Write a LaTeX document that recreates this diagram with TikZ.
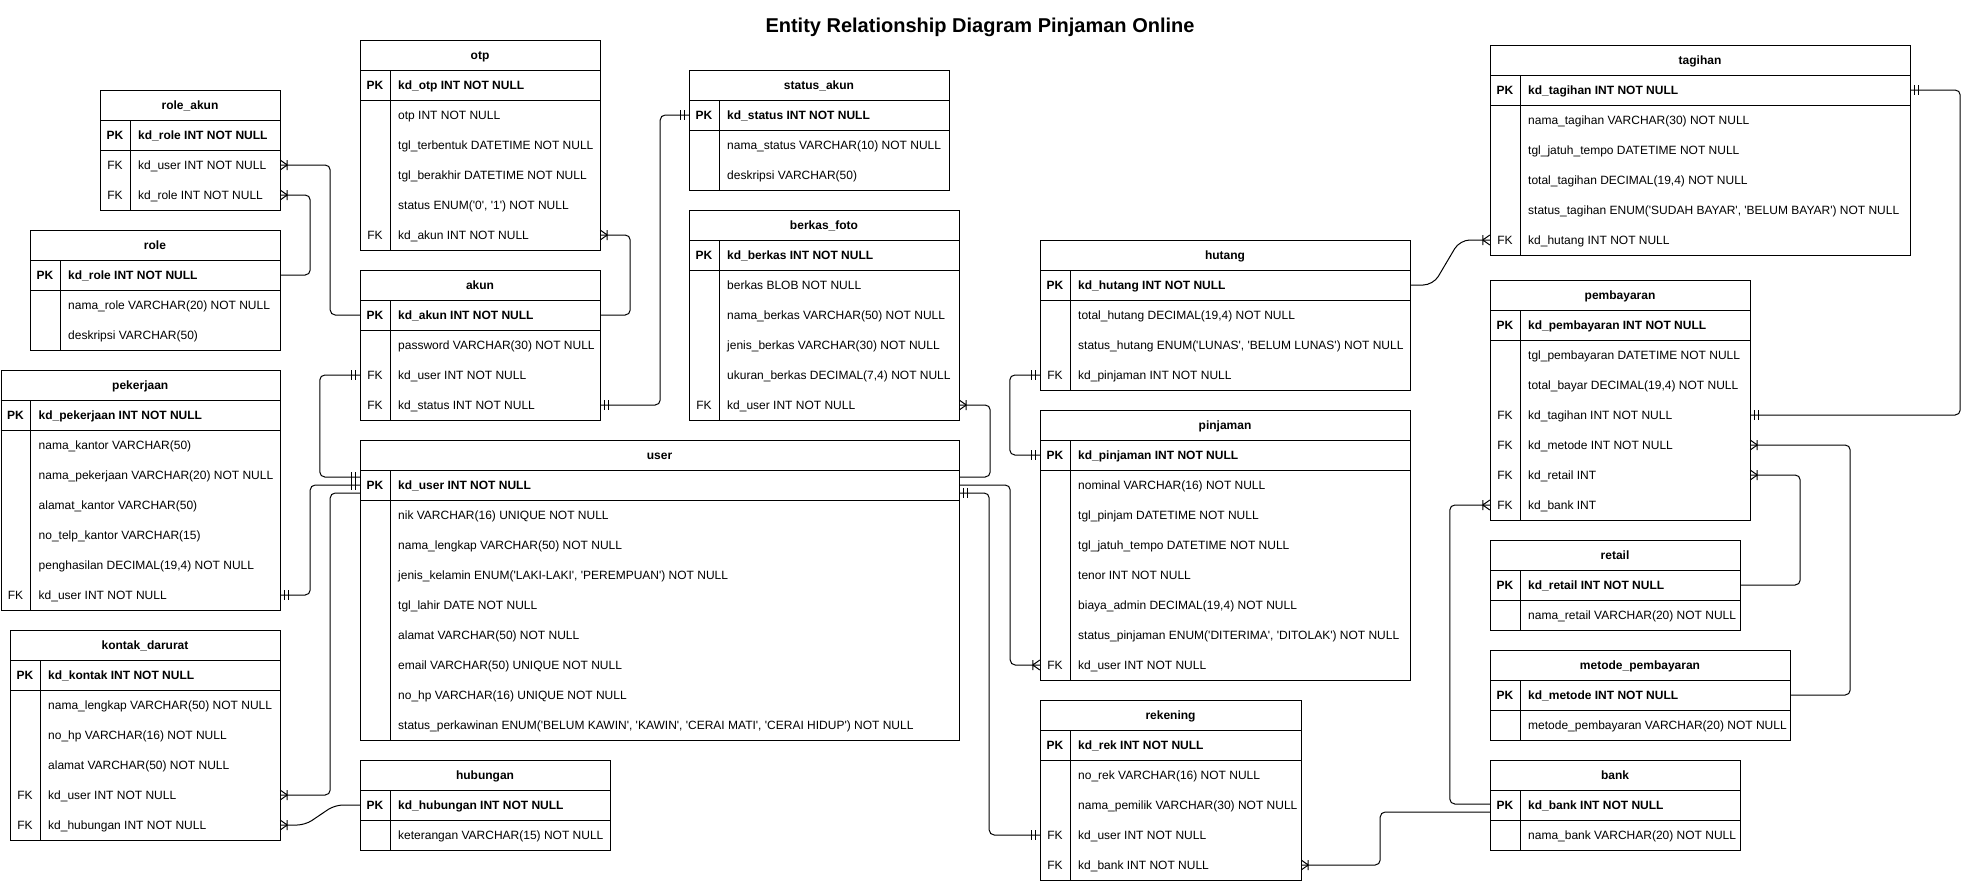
\documentclass[tikz,border=0pt]{standalone}
\usepackage{fontspec}
\setmainfont{Liberation Sans}
\newcommand\ap{\textquotesingle}
\tikzset{
  frame/.style={draw=black, line width=1pt},
  conn/.style={draw=black, line width=1pt, rounded corners=5pt},
  mk/.style={draw=black, line width=1pt},
  cellrow/.style={rectangle, inner sep=0pt, minimum height=30pt},
  ttl/.style={inner sep=0pt, font=\fontsize{12}{14}\selectfont\bfseries},
  keytxt/.style={inner sep=0pt, font=\fontsize{12}{14}\selectfont},
  attr/.style={inner sep=0pt, anchor=base west, font=\fontsize{12}{14}\selectfont},
}
% table: name, x, y, width, rows (incl. PK), title
\newcommand\ertab[6]{%
  \def\erX{#2}\def\erW{#4}%
  \pgfmathsetmacro\erH{30*(#5+1)}%
  \node[frame, rectangle, inner sep=0pt, minimum width=#4pt, minimum height=\erH pt, anchor=north west] (#1) at (#2,#3) {};
  \node[ttl, anchor=base] at ({#2+#4/2},{#3+19.3}) {#6};
  \draw[frame] (#2,{#3+30}) -- ++(#4,0);
  \draw[frame] (#2,{#3+60}) -- ++(#4,0);
  \draw[frame] ({#2+30},{#3+30}) -- ({#2+30},{#3+\erH});
  \pgfmathsetmacro\erY{#3+30}%
}
\newcommand\errow[3]{%
  \node[cellrow, minimum width=\erW pt] (#1) at ({\erX+\erW/2},{\erY+15}) {};
  \node[keytxt, anchor=base] at ({\erX+15},{\erY+19.3}) {#2};
  \node[attr] at ({\erX+38},{\erY+19.3}) {#3};
  \pgfmathsetmacro\erY{\erY+30}%
}
\newcommand\erpk[2]{\errow{#1}{\textbf{PK}}{\textbf{#2}}}
% markers: point, direction (1 = right, -1 = left)
\newcommand\mandone[2]{%
  \draw[mk] ([xshift=#2*4pt,yshift=5pt]#1) -- ([xshift=#2*4pt,yshift=-5pt]#1)
            ([xshift=#2*8.5pt,yshift=5pt]#1) -- ([xshift=#2*8.5pt,yshift=-5pt]#1);}
\newcommand\onemany[2]{%
  \draw[mk] ([yshift=5pt]#1) -- ([xshift=#2*7pt]#1) -- ([yshift=-5pt]#1)
            ([xshift=#2*7pt,yshift=5pt]#1) -- ([xshift=#2*7pt,yshift=-5pt]#1);}
\begin{document}
\begin{tikzpicture}[x=1pt,y=-1pt]
\useasboundingbox (0,0) rectangle (1970,881);
\node[font=\fontsize{20}{24}\selectfont\bfseries, inner sep=0pt, anchor=base] (title) at (980,32) {Entity Relationship Diagram Pinjaman Online};

% role_akun
\ertab{roleakun}{100}{90}{180}{3}{role\_akun}
\erpk{ra-pk}{kd\_role INT NOT NULL}
\errow{ra-user}{FK}{kd\_user INT NOT NULL}
\errow{ra-role}{FK}{kd\_role INT NOT NULL}

% role
\ertab{role}{30}{230}{250}{3}{role}
\erpk{ro-pk}{kd\_role INT NOT NULL}
\errow{ro-nama}{}{nama\_role VARCHAR(20) NOT NULL}
\errow{ro-desk}{}{deskripsi VARCHAR(50)}

% pekerjaan
\ertab{pekerjaan}{0.5}{370}{279.5}{7}{pekerjaan}
\erpk{pk-pk}{kd\_pekerjaan INT NOT NULL}
\errow{pk-kantor}{}{nama\_kantor VARCHAR(50)}
\errow{pk-nama}{}{nama\_pekerjaan VARCHAR(20) NOT NULL}
\errow{pk-alamat}{}{alamat\_kantor VARCHAR(50)}
\errow{pk-telp}{}{no\_telp\_kantor VARCHAR(15)}
\errow{pk-gaji}{}{penghasilan DECIMAL(19,4) NOT NULL}
\errow{pk-user}{FK}{kd\_user INT NOT NULL}

% kontak_darurat
\ertab{kontak}{10}{630}{270}{6}{kontak\_darurat}
\erpk{kd-pk}{kd\_kontak INT NOT NULL}
\errow{kd-nama}{}{nama\_lengkap VARCHAR(50) NOT NULL}
\errow{kd-hp}{}{no\_hp VARCHAR(16) NOT NULL}
\errow{kd-alamat}{}{alamat VARCHAR(50) NOT NULL}
\errow{kd-user}{FK}{kd\_user INT NOT NULL}
\errow{kd-hub}{FK}{kd\_hubungan INT NOT NULL}

% otp
\ertab{otp}{360}{40}{240}{6}{otp}
\erpk{otp-pk}{kd\_otp INT NOT NULL}
\errow{otp-otp}{}{otp INT NOT NULL}
\errow{otp-tb}{}{tgl\_terbentuk DATETIME NOT NULL}
\errow{otp-tk}{}{tgl\_berakhir DATETIME NOT NULL}
\errow{otp-st}{}{status ENUM(\ap 0\ap, \ap 1\ap) NOT NULL}
\errow{otp-akun}{FK}{kd\_akun INT NOT NULL}

% akun
\ertab{akun}{360}{270}{240}{4}{akun}
\erpk{akun-pk}{kd\_akun INT NOT NULL}
\errow{akun-pw}{}{password VARCHAR(30) NOT NULL}
\errow{akun-user}{FK}{kd\_user INT NOT NULL}
\errow{akun-status}{FK}{kd\_status INT NOT NULL}

% user
\ertab{user}{360}{440}{599}{9}{user}
\erpk{user-pk}{kd\_user INT NOT NULL}
\errow{user-nik}{}{nik VARCHAR(16) UNIQUE NOT NULL}
\errow{user-nama}{}{nama\_lengkap VARCHAR(50) NOT NULL}
\errow{user-jk}{}{jenis\_kelamin ENUM(\ap LAKI-LAKI\ap, \ap PEREMPUAN\ap) NOT NULL}
\errow{user-lahir}{}{tgl\_lahir DATE NOT NULL}
\errow{user-alamat}{}{alamat VARCHAR(50) NOT NULL}
\errow{user-email}{}{email VARCHAR(50) UNIQUE NOT NULL}
\errow{user-hp}{}{no\_hp VARCHAR(16) UNIQUE NOT NULL}
\errow{user-kawin}{}{status\_perkawinan ENUM(\ap BELUM KAWIN\ap, \ap KAWIN\ap, \ap CERAI MATI\ap, \ap CERAI HIDUP\ap) NOT NULL}

% hubungan
\ertab{hubungan}{360}{760}{250}{2}{hubungan}
\erpk{hub-pk}{kd\_hubungan INT NOT NULL}
\errow{hub-ket}{}{keterangan VARCHAR(15) NOT NULL}

% status_akun
\ertab{statusakun}{689}{70}{260}{3}{status\_akun}
\erpk{sa-pk}{kd\_status INT NOT NULL}
\errow{sa-nama}{}{nama\_status VARCHAR(10) NOT NULL}
\errow{sa-desk}{}{deskripsi VARCHAR(50)}

% berkas_foto
\ertab{berkas}{689}{210}{270}{6}{berkas\_foto}
\erpk{bf-pk}{kd\_berkas INT NOT NULL}
\errow{bf-blob}{}{berkas BLOB NOT NULL}
\errow{bf-nama}{}{nama\_berkas VARCHAR(50) NOT NULL}
\errow{bf-jenis}{}{jenis\_berkas VARCHAR(30) NOT NULL}
\errow{bf-ukuran}{}{ukuran\_berkas DECIMAL(7,4) NOT NULL}
\errow{bf-user}{FK}{kd\_user INT NOT NULL}

% hutang
\ertab{hutang}{1040}{240}{370}{4}{hutang}
\erpk{hut-pk}{kd\_hutang INT NOT NULL}
\errow{hut-total}{}{total\_hutang DECIMAL(19,4) NOT NULL}
\errow{hut-status}{}{status\_hutang ENUM(\ap LUNAS\ap, \ap BELUM LUNAS\ap) NOT NULL}
\errow{hut-pin}{FK}{kd\_pinjaman INT NOT NULL}

% pinjaman
\ertab{pinjaman}{1040}{410}{370}{8}{pinjaman}
\erpk{pin-pk}{kd\_pinjaman INT NOT NULL}
\errow{pin-nom}{}{nominal VARCHAR(16) NOT NULL}
\errow{pin-tgl}{}{tgl\_pinjam DATETIME NOT NULL}
\errow{pin-jt}{}{tgl\_jatuh\_tempo DATETIME NOT NULL}
\errow{pin-tenor}{}{tenor INT NOT NULL}
\errow{pin-admin}{}{biaya\_admin DECIMAL(19,4) NOT NULL}
\errow{pin-status}{}{status\_pinjaman ENUM(\ap DITERIMA\ap, \ap DITOLAK\ap) NOT NULL}
\errow{pin-user}{FK}{kd\_user INT NOT NULL}

% rekening
\ertab{rekening}{1040}{700}{261}{5}{rekening}
\erpk{rek-pk}{kd\_rek INT NOT NULL}
\errow{rek-no}{}{no\_rek VARCHAR(16) NOT NULL}
\errow{rek-nama}{}{nama\_pemilik VARCHAR(30) NOT NULL}
\errow{rek-user}{FK}{kd\_user INT NOT NULL}
\errow{rek-bank}{FK}{kd\_bank INT NOT NULL}

% tagihan
\ertab{tagihan}{1490}{45}{420}{6}{tagihan}
\erpk{tag-pk}{kd\_tagihan INT NOT NULL}
\errow{tag-nama}{}{nama\_tagihan VARCHAR(30) NOT NULL}
\errow{tag-jt}{}{tgl\_jatuh\_tempo DATETIME NOT NULL}
\errow{tag-total}{}{total\_tagihan DECIMAL(19,4) NOT NULL}
\errow{tag-status}{}{status\_tagihan ENUM(\ap SUDAH BAYAR\ap, \ap BELUM BAYAR\ap) NOT NULL}
\errow{tag-hut}{FK}{kd\_hutang INT NOT NULL}

% pembayaran
\ertab{pembayaran}{1490}{280}{260}{7}{pembayaran}
\erpk{pem-pk}{kd\_pembayaran INT NOT NULL}
\errow{pem-tgl}{}{tgl\_pembayaran DATETIME NOT NULL}
\errow{pem-total}{}{total\_bayar DECIMAL(19,4) NOT NULL}
\errow{pem-tag}{FK}{kd\_tagihan INT NOT NULL}
\errow{pem-met}{FK}{kd\_metode INT NOT NULL}
\errow{pem-ret}{FK}{kd\_retail INT}
\errow{pem-bank}{FK}{kd\_bank INT}

% retail
\ertab{retail}{1490}{540}{250}{2}{retail}
\erpk{ret-pk}{kd\_retail INT NOT NULL}
\errow{ret-nama}{}{nama\_retail VARCHAR(20) NOT NULL}

% metode_pembayaran
\ertab{metode}{1490}{650}{300}{2}{metode\_pembayaran}
\erpk{met-pk}{kd\_metode INT NOT NULL}
\errow{met-nama}{}{metode\_pembayaran VARCHAR(20) NOT NULL}

% bank
\ertab{bank}{1490}{760}{250}{2}{bank}
\erpk{bank-pk}{kd\_bank INT NOT NULL}
\errow{bank-nama}{}{nama\_bank VARCHAR(20) NOT NULL}

% ---------- connection points ----------
\coordinate (ul1) at ([yshift=8pt]user-pk.west);
\coordinate (ul3) at ([yshift=-8pt]user-pk.west);
\coordinate (ur1) at ([yshift=8pt]user-pk.east);
\coordinate (ur3) at ([yshift=-8pt]user-pk.east);
\coordinate (bk1) at ([yshift=1pt]bank-pk.west);
\coordinate (bk2) at ([yshift=-7pt]bank-pk.west);

% ---------- connectors ----------
\draw[conn] (ra-user.east) -- ++(50,0) |- (akun-pk.west);
\onemany{ra-user.east}{1}
\draw[conn] (ra-role.east) -- ++(30,0) |- (ro-pk.east);
\onemany{ra-role.east}{1}
\draw[conn] (otp-akun.east) -- ++(30,0) |- (akun-pk.east);
\onemany{otp-akun.east}{1}
\draw[conn] (akun-status.east) -- ++(60,0) |- (sa-pk.west);
\mandone{akun-status.east}{1}
\mandone{sa-pk.west}{-1}
\draw[conn] (akun-user.west) -- ++(-40,0) |- (ul1);
\mandone{akun-user.west}{-1}
\mandone{ul1}{-1}
\draw[conn] (pk-user.east) -- ++(30,0) |- (user-pk.west);
\mandone{pk-user.east}{1}
\mandone{user-pk.west}{-1}
\draw[conn] (kd-user.east) -- ++(50,0) |- (ul3);
\onemany{kd-user.east}{1}
\draw[conn, rounded corners=8pt] (kd-hub.east) -- ++(25,0) -- ([xshift=-25pt]hub-pk.west) -- (hub-pk.west);
\onemany{kd-hub.east}{1}
\draw[conn] (bf-user.east) -- ++(31,0) |- (ur1);
\onemany{bf-user.east}{1}
\draw[conn] (ur3) -- ++(30,0) |- (rek-user.west);
\mandone{ur3}{1}
\mandone{rek-user.west}{-1}
\draw[conn] (user-pk.east) -- ++(51,0) |- (pin-user.west);
\onemany{pin-user.west}{-1}
\draw[conn] (hut-pin.west) -- ++(-30,0) |- (pin-pk.west);
\mandone{hut-pin.west}{-1}
\mandone{pin-pk.west}{-1}
\draw[conn, rounded corners=10pt] (hut-pk.east) -- ++(23,0) -- ([xshift=-30pt]tag-hut.west) -- (tag-hut.west);
\onemany{tag-hut.west}{-1}
\draw[conn] (tag-pk.east) -- ++(50,0) |- (pem-tag.east);
\mandone{tag-pk.east}{1}
\mandone{pem-tag.east}{1}
\draw[conn] (pem-met.east) -- ++(100,0) |- (met-pk.east);
\onemany{pem-met.east}{1}
\draw[conn] (pem-ret.east) -- ++(50,0) |- (ret-pk.east);
\onemany{pem-ret.east}{1}
\draw[conn] (pem-bank.west) -- ++(-40,0) |- (bk1);
\onemany{pem-bank.west}{-1}
\draw[conn] (rek-bank.east) -- ++(79,0) |- (bk2);
\onemany{rek-bank.east}{1}
\end{tikzpicture}
\end{document}
